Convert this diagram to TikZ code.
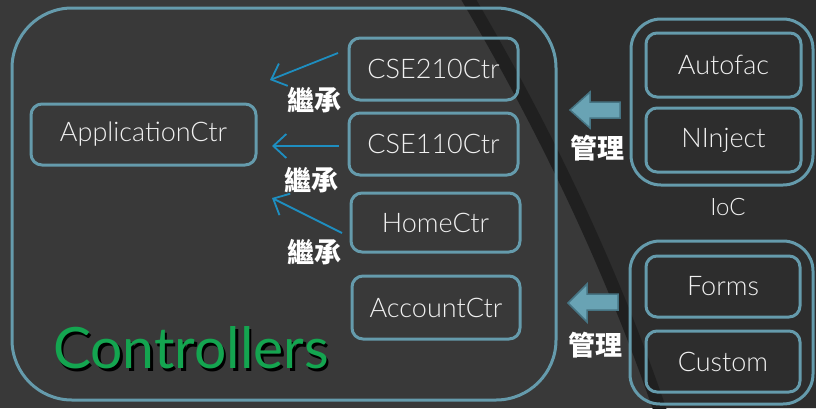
\documentclass[tikz,border=0pt]{standalone}
\usepackage{fontspec}
\setmainfont{Lato}[UprightFont={* Light}]
\newfontfamily\titlefont{Lato}
\newfontfamily\cjk{Noto Sans CJK TC}
\usetikzlibrary{arrows.meta}
\definecolor{bgmain}{RGB}{57,57,57}
\definecolor{bgdark}{RGB}{45,45,45}
\definecolor{stripecol}{RGB}{32,32,32}
\definecolor{boxline}{RGB}{101,155,172}
\definecolor{inh}{RGB}{30,142,192}
\definecolor{ctrgreen}{RGB}{20,165,80}
\definecolor{blkfill}{RGB}{105,163,180}
\definecolor{blkedge}{RGB}{70,116,131}
\begin{document}
\begin{tikzpicture}[x=1pt,y=-1pt,
  box/.style={draw=boxline, line width=3pt, rounded corners=11pt, text=white!94!black,
    font=\fontsize{27}{30}\selectfont, inner sep=0pt},
  container/.style={draw=boxline, line width=3pt, inner sep=0pt},
  inhlabel/.style={text=white, font=\cjk\bfseries\fontsize{27}{29}\selectfont, inner sep=0pt},
  inharrow/.style={draw=inh, line width=1.8pt, -{Straight Barb[length=13pt,width=24pt,line width=1.8pt]}},
  blockarrow/.style={fill=blkfill, draw=blkedge, line width=1.5pt, line join=miter}
]
\useasboundingbox (0,0) rectangle (816,408);
\clip (0,0) rectangle (816,408);
% background
\fill[bgmain] (0,0) rectangle (816,408);
\fill[bgdark] (468,0) .. controls (546,131) and (611,267) .. (659,408) -- (816,408) -- (816,0) -- cycle;
\draw[stripecol, line width=13pt] (466,-5) .. controls (546,131) and (611,267) .. (661,413);

% containers
\node[container, rounded corners=60pt, minimum width=544pt, minimum height=392pt] (ctrl) at (284,204) {};
\node[container, rounded corners=30pt, minimum width=182pt, minimum height=166pt] (ioc) at (722,102) {};
\node[container, rounded corners=30pt, minimum width=183pt, minimum height=163pt] (auth) at (721.5,322.5) {};

% boxes
\node[box, minimum width=225pt, minimum height=61pt] (app) at (143.5,134.5) {ApplicationCtr};
\node[box, minimum width=169pt, minimum height=62pt] (c210) at (433.5,69) {CSE210Ctr};
\node[box, minimum width=169pt, minimum height=62pt] (c110) at (433.5,144) {CSE110Ctr};
\node[box, minimum width=169pt, minimum height=59pt] (home) at (435.5,222.5) {HomeCtr};
\node[box, minimum width=168pt, minimum height=63pt] (acct) at (436,307.5) {AccountCtr};
\node[box, minimum width=155pt, minimum height=64pt] (autofac) at (723.5,65) {Autofac};
\node[box, minimum width=155pt, minimum height=64pt] (ninject) at (723.5,140) {NInject};
\node[box, minimum width=154pt, minimum height=61pt] (forms) at (723,286.5) {Forms};
\node[box, minimum width=154pt, minimum height=61pt] (custom) at (723,361.5) {Custom};

\node[text=white!94!black, font=\fontsize{24}{26}\selectfont, inner sep=0pt] (ioclbl) at (728,207) {IoC};

% Controllers title with shadow
\node[text=ctrgreen, font=\titlefont\fontsize{57}{62}\selectfont, inner sep=0pt] (ctrltitle) at (191,349)
  {\rlap{\kern2.5pt\raisebox{-2.5pt}{\color{black}Controllers}}Controllers};

% inheritance arrows
\coordinate (a1s) at (338,53);  \coordinate (a1e) at (270,80);
\coordinate (a2s) at (339,146); \coordinate (a2e) at (272,146);
\coordinate (a3s) at (342,233); \coordinate (a3e) at (272,198);
\draw[inharrow] (a1s) -- (a1e);
\draw[inharrow] (a2s) -- (a2e);
\draw[inharrow] (a3s) -- (a3e);
\node[inhlabel] (l1) at (314,100) {繼承};
\node[inhlabel] (l2) at (311,180) {繼承};
\node[inhlabel] (l3) at (314,252) {繼承};

% management block arrows
\coordinate (m1) at (570,110);
\draw[blockarrow] (m1) -- ++(20,-18) -- ++(0,10) -- ++(30,0) -- ++(0,16) -- ++(-30,0) -- ++(0,10) -- cycle;
\coordinate (m2) at (568,303);
\draw[blockarrow] (m2) -- ++(19,-19) -- ++(0,10) -- ++(31,0) -- ++(0,16) -- ++(-31,0) -- ++(0,12) -- cycle;
\node[inhlabel] (g1) at (597,148) {管理};
\node[inhlabel] (g2) at (595,345) {管理};
\end{tikzpicture}
\end{document}
